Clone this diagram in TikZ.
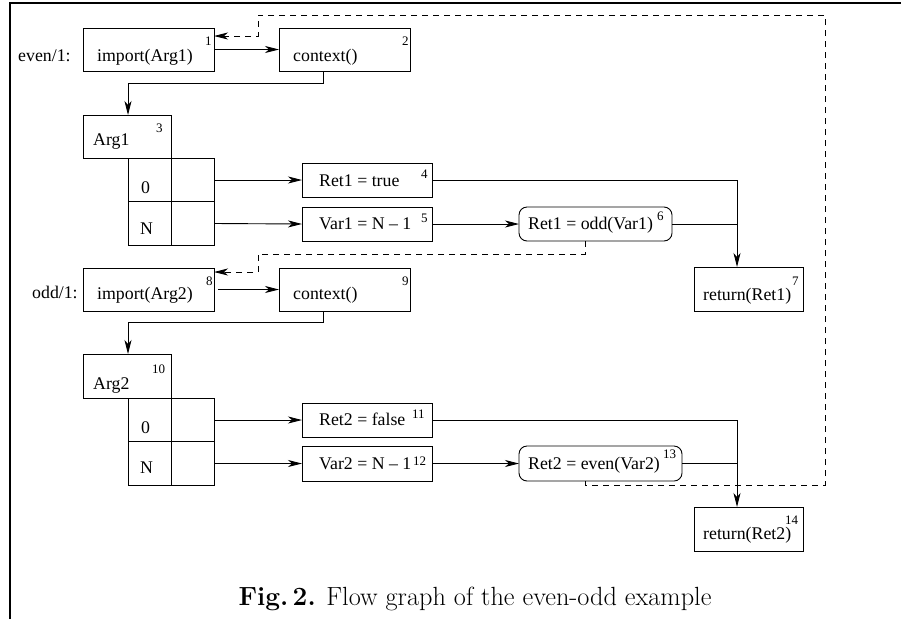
\documentclass[tikz,border=0pt]{standalone}
\usepackage{fontspec}
\newfontfamily\tms{Liberation Serif}
\usetikzlibrary{arrows.meta}
\begin{document}
\begin{tikzpicture}[x=1pt,y=-1pt,
 box/.style={draw,line width=0.9pt,inner sep=0pt,outer sep=0pt},
 rbox/.style={box,rounded corners=8pt},
 txt/.style={anchor=base west,inner sep=0pt,font=\tms\fontsize{17.8}{20}\selectfont},
 num/.style={anchor=base west,inner sep=0pt,font=\tms\fontsize{13}{15}\selectfont},
 con/.style={line width=0.9pt},
 arr/.style={con,-{Stealth[length=14pt,width=7pt,inset=4pt]}},
 darr/.style={arr,dash pattern=on 6pt off 5pt},
]
\useasboundingbox (0,0) rectangle (901,619);
\draw[line width=2.5pt] (10,619) -- (10,3) -- (901,3);

% ---------- even/1 ----------
\node[box,minimum width=131pt,minimum height=43pt] (imp1) at (148.5,49.5) {};
\node[box,minimum width=131pt,minimum height=43pt] (ctx1) at (344.5,49.5) {};
\node[box,minimum width=88pt,minimum height=43pt] (arg1) at (127,136.5) {};
\node[box,minimum width=43pt,minimum height=43.5pt] (t1a) at (149.5,180) {};
\node[box,minimum width=43pt,minimum height=43.5pt] (t1b) at (192.5,180) {};
\node[box,minimum width=43pt,minimum height=43.5pt] (t1c) at (149.5,223.5) {};
\node[box,minimum width=43pt,minimum height=43.5pt] (t1d) at (192.5,223.5) {};
\node[box,minimum width=130pt,minimum height=34pt] (ret1t) at (367,180) {};
\node[box,minimum width=130pt,minimum height=34pt] (var1) at (367,224) {};
\node[rbox,minimum width=153pt,minimum height=34pt] (odd1) at (595.5,224) {};
\node[box,minimum width=109pt,minimum height=44pt] (ret1) at (748.5,289) {};

\node[txt] (l1) at (18,61) {even/1:};
\node[txt] (x1) at (97,61) {import(Arg1)};
\node[num] (n1) at (205,45) {1};
\node[txt] (x2) at (293,61) {context()};
\node[num] (n2) at (402,45) {2};
\node[txt] (x3) at (93,145) {Arg1};
\node[num] (n3) at (156,132) {3};
\node[txt] (x3a) at (141,193) {0};
\node[txt] (x3b) at (140,234) {N};
\node[txt] (x4) at (319,186) {Ret1 = true};
\node[num] (n4) at (421,178) {4};
\node[txt] (x5) at (319,229) {Var1 = N – 1};
\node[num] (n5) at (421,222) {5};
\node[txt] (x6) at (528,229) {Ret1 = odd(Var1)};
\node[num] (n6) at (657,220) {6};
\node[txt] (x7) at (703,300) {return(Ret1)};
\node[num] (n7) at (792,285) {7};

% ---------- odd/1 ----------
\node[box,minimum width=131pt,minimum height=43pt] (imp2) at (148.5,289.5) {};
\node[box,minimum width=131pt,minimum height=43pt] (ctx2) at (344.5,289.5) {};
\node[box,minimum width=88pt,minimum height=44pt] (arg2) at (127,376) {};
\node[box,minimum width=43pt,minimum height=43.5pt] (t2a) at (149.5,420) {};
\node[box,minimum width=43pt,minimum height=43.5pt] (t2b) at (192.5,420) {};
\node[box,minimum width=43pt,minimum height=43.5pt] (t2c) at (149.5,463.5) {};
\node[box,minimum width=43pt,minimum height=43.5pt] (t2d) at (192.5,463.5) {};
\node[box,minimum width=130pt,minimum height=34pt] (ret2f) at (367,420) {};
\node[box,minimum width=130pt,minimum height=35pt] (var2) at (367,463.5) {};
\node[rbox,minimum width=163pt,minimum height=35pt] (even2) at (600.5,463.5) {};
\node[box,minimum width=109pt,minimum height=44pt] (ret2) at (748.5,529) {};

\node[txt] (l2) at (32,298) {odd/1:};
\node[txt] (y1) at (97,299) {import(Arg2)};
\node[num] (m8) at (206,285) {8};
\node[txt] (y2) at (293,299) {context()};
\node[num] (m9) at (402,285) {9};
\node[txt] (y3) at (93,389) {Arg2};
\node[num] (m10) at (152,373) {10};
\node[txt] (y3a) at (141,433) {0};
\node[txt] (y3b) at (140,473) {N};
\node[txt] (y4) at (319,425) {Ret2 = false};
\node[num] (m11) at (412,418) {11};
\node[txt] (y5) at (319,469) {Var2 = N – 1};
\node[num] (m12) at (413,465) {12};
\node[txt] (y6) at (528,469) {Ret2 = even(Var2)};
\node[num] (m13) at (663,458) {13};
\node[txt] (y7) at (703,539) {return(Ret2)};
\node[num] (m14) at (785,524) {14};

% ---------- bend points ----------
\coordinate (c1) at (323,83);
\coordinate (c1b) at (128,83);
\coordinate (c2) at (323,322);
\coordinate (c2b) at (128,322);
\coordinate (j1) at (737,181);
\coordinate (j2) at (737,420);
\coordinate (eA) at (585,254);
\coordinate (eC) at (258,272);
\coordinate (dA) at (585,485);
\coordinate (dB) at (825,15);
\coordinate (dC) at (258,36);

% ---------- connectors ----------
\draw[arr] (imp1.east) -- (ctx1.west);
\draw[arr] (ctx1.south -| c1) -- (c1) -- (c1b) -- (arg1.north -| c1b);
\draw[arr] (t1b.east) -- (ret1t.west);
\draw[arr] (t1d.east) -- (var1.west);
\draw[arr] (var1.east) -- (odd1.west);
\draw[arr] (ret1t.east) -| (ret1.north -| j1);
\draw[con] (odd1.east) -- (odd1.east -| j1);
\draw[darr] (odd1.south -| eA) -- (eA) -| (eC) -- (imp2.east |- eC);

\draw[arr] ([xshift=4pt]imp2.east) -- (ctx2.west);
\draw[arr] (ctx2.south -| c2) -- (c2) -- (c2b) -- (arg2.north -| c2b);
\draw[arr] (t2b.east) -- (ret2f.west);
\draw[arr] (t2d.east) -- (var2.west);
\draw[arr] (var2.east) -- (even2.west);
\draw[arr] (ret2f.east) -| (ret2.north -| j2);
\draw[con] (even2.east) -- (even2.east -| j2);
\draw[darr] (even2.south -| dA) -- (dA) -| (dB) -| (dC) -- (imp1.east |- dC);

% ---------- caption ----------
\node[anchor=base,inner sep=0pt,font=\fontsize{26.3}{30}\selectfont] (cap) at (475,605)
  {\textbf{Fig.\,2.} Flow graph of the even-odd example};
\end{tikzpicture}
\end{document}
